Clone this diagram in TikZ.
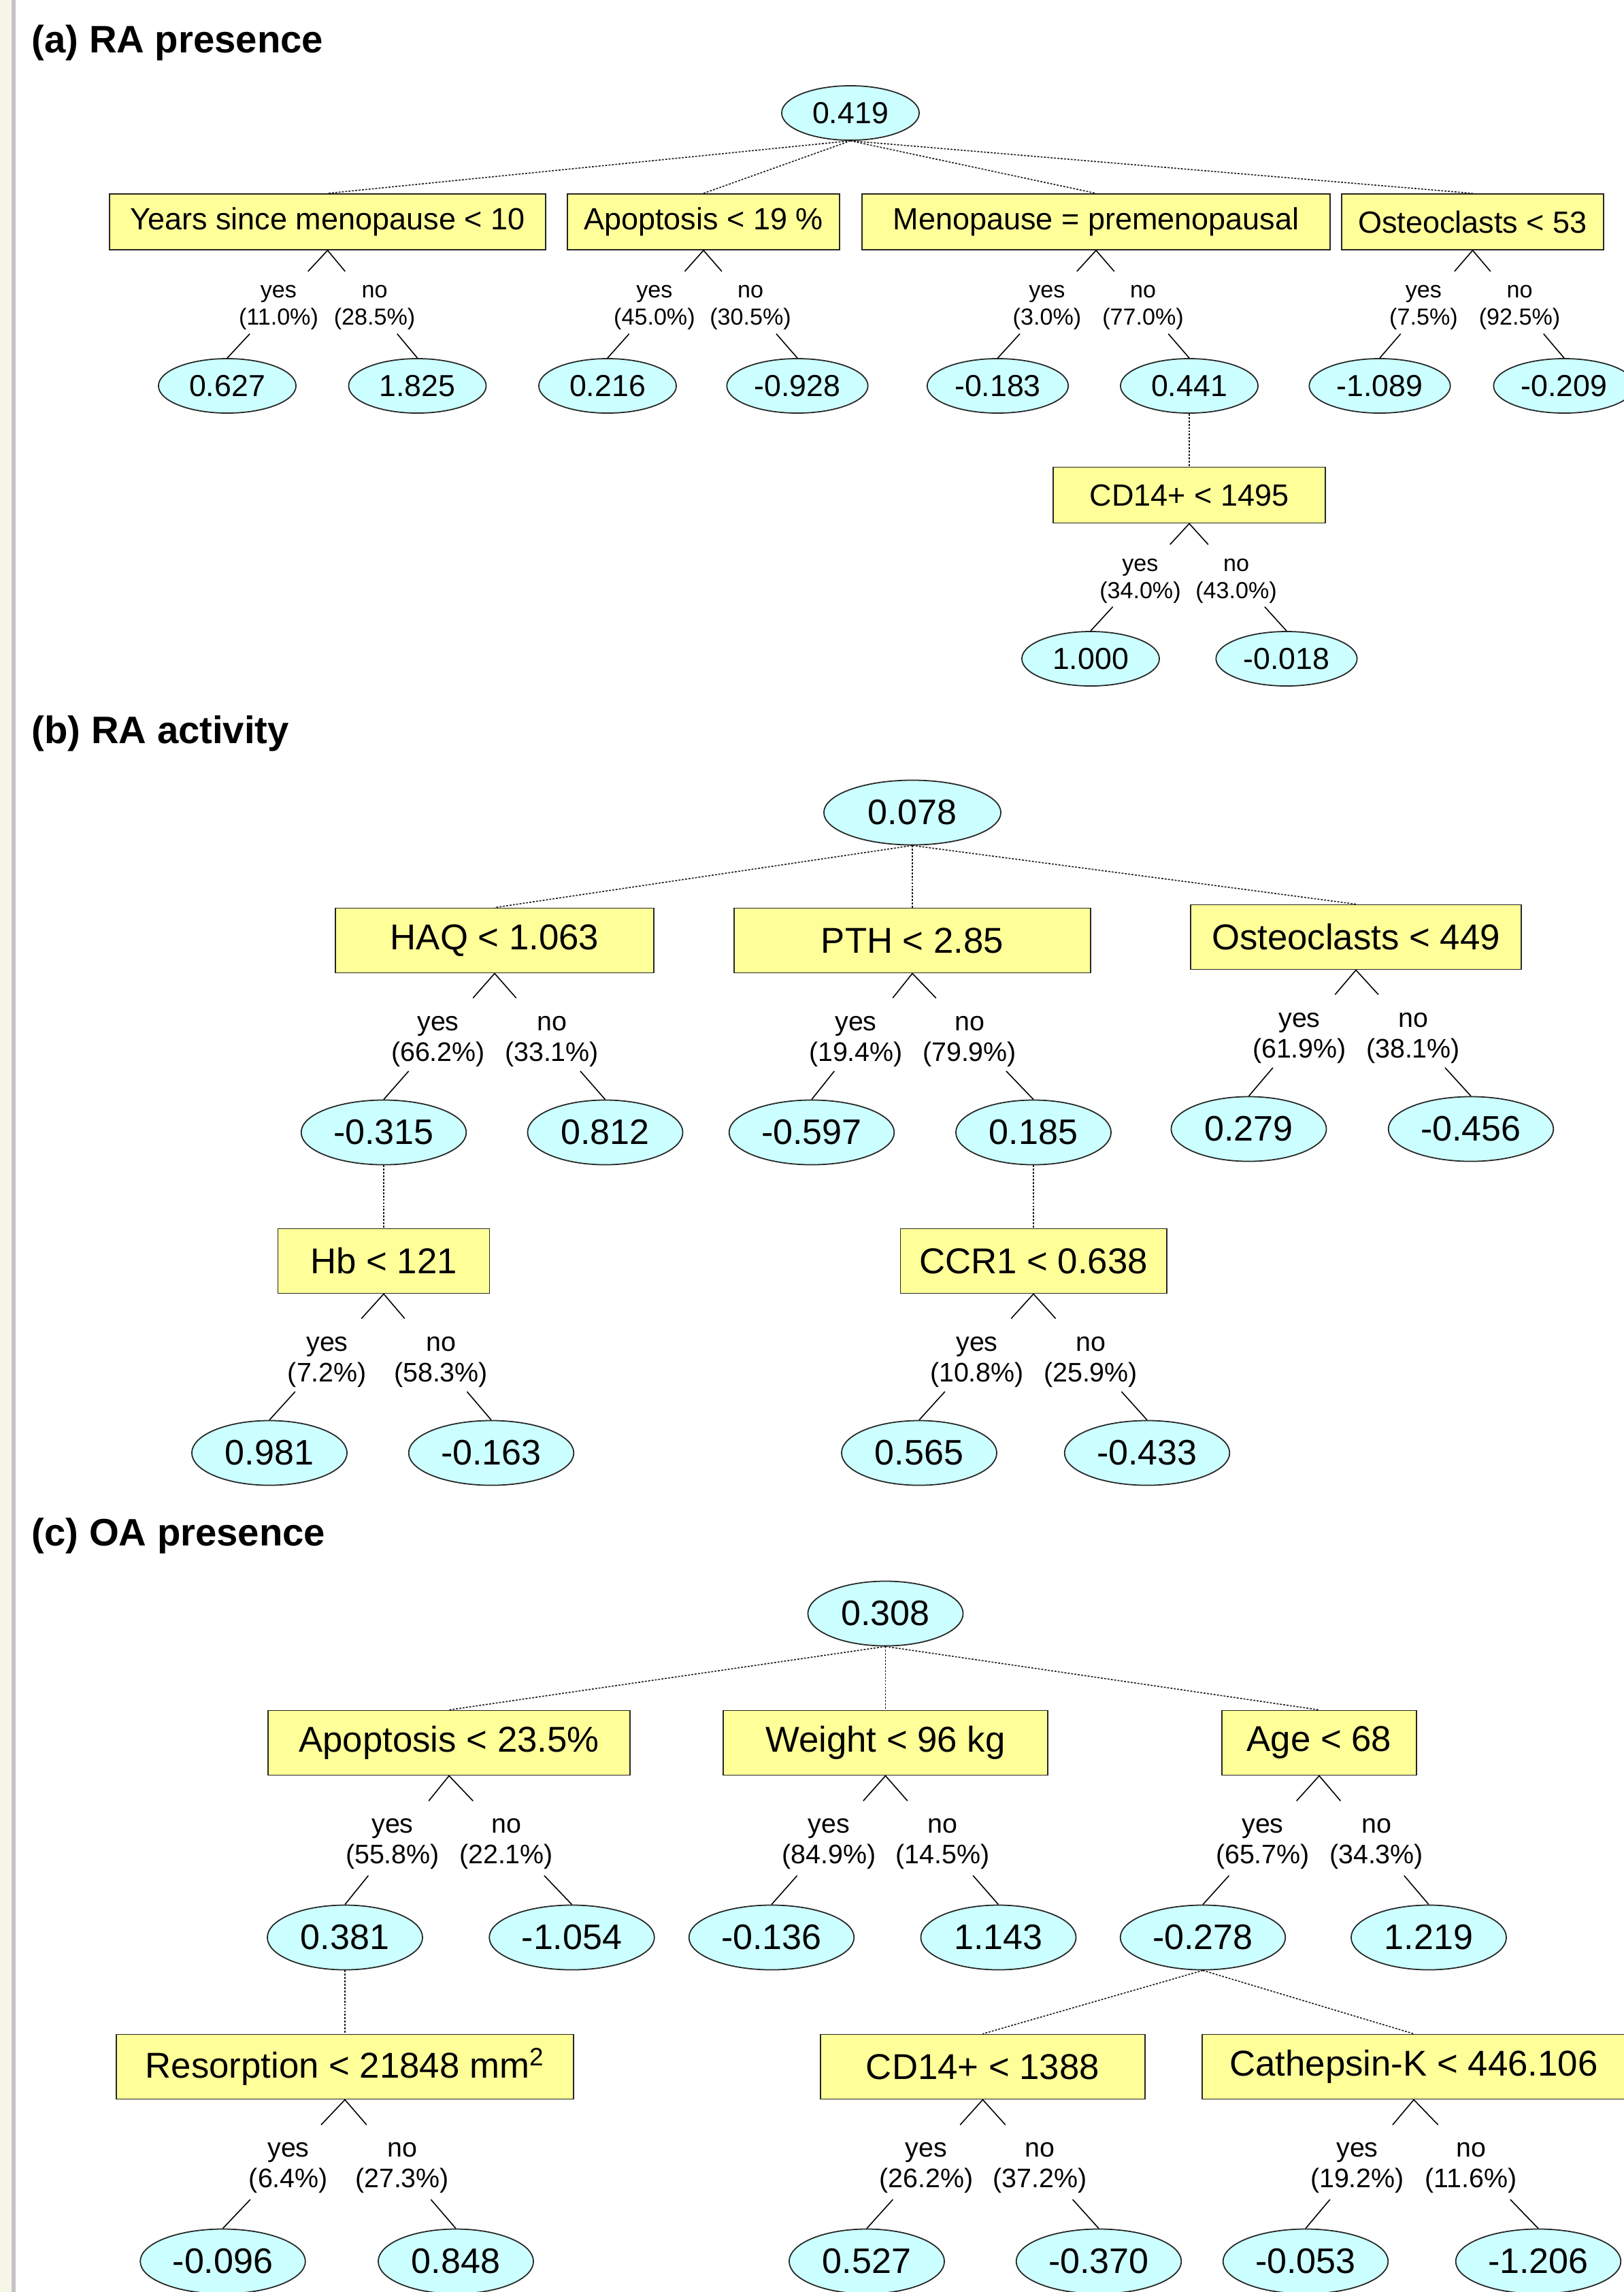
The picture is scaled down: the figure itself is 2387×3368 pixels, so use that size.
\documentclass[tikz,border=0pt]{standalone}
\usepackage{fontspec}
\setmainfont{Liberation Sans}
\usetikzlibrary{shapes.geometric,calc}
\definecolor{splityellow}{RGB}{255,255,153}
\definecolor{leafcyan}{RGB}{204,255,255}
\definecolor{pagecream}{RGB}{245,245,232}
\definecolor{railgrey}{RGB}{196,196,196}

\begin{document}
\begin{tikzpicture}[
    x=0.01cm, y=-0.01cm,
    title/.style={
        anchor=base west,
        inner sep=0pt,
        font=\bfseries\fontsize{16}{19}\selectfont
    },
    splitA/.style={
        draw=black!85,
        fill=splityellow,
        line width=0.5pt,
        inner sep=0pt,
        minimum height=0.82cm,
        font=\fontsize{12.8}{15}\selectfont
    },
    splitB/.style={
        splitA,
        minimum height=0.95cm,
        font=\fontsize{15}{18}\selectfont
    },
    leafA/.style={
        ellipse,
        draw=black!85,
        fill=leafcyan,
        line width=0.5pt,
        inner xsep=0.1cm,
        inner ysep=0pt,
        minimum width=2.02cm,
        minimum height=0.8cm,
        font=\fontsize{12.7}{15}\selectfont
    },
    leafB/.style={
        leafA,
        inner xsep=0.12cm,
        minimum width=2.28cm,
        minimum height=0.95cm,
        font=\fontsize{14.8}{18}\selectfont
    },
    pctA/.style={
        align=center,
        inner sep=0pt,
        font=\fontsize{9.7}{11.4}\selectfont
    },
    pctB/.style={
        pctA,
        font=\fontsize{11.2}{12.8}\selectfont
    },
    link/.style={
        dash pattern=on 0.8pt off 0.6pt,
        line width=0.45pt,
        black!90
    },
    branch/.style={
        line width=0.45pt,
        to path={(\tikztostart) -- ($(\tikztostart)!0.195!(\tikztotarget)$)
                 ($(\tikztostart)!0.775!(\tikztotarget)$) -- (\tikztotarget)}
    }
]

\useasboundingbox (0,0) rectangle (2387,3368);
\clip (0,0) rectangle (2387,3368);

% page background and left rail
\fill[white] (0,0) rectangle (2387,3368);
\fill[pagecream] (0,0) rectangle (17,3368);
\fill[railgrey] (17,0) rectangle (23,3368);

% ============================================================
% (a) RA PRESENCE
% ============================================================

\node[title] (titleA) at (46,77) {(a) RA presence};

\node[leafA] (rootA) at (1250,166) {0.419};

\node[splitA, minimum width=6.41cm] (yearsA) at (481.5,326) {Years since menopause < 10};
\node[splitA, minimum width=4.00cm] (apopA) at (1034,326) {Apoptosis < 19 \%};
\node[splitA, minimum width=6.88cm] (menoA) at (1611,326) {Menopause = premenopausal};
\node[splitA, minimum width=3.85cm] (osteoA) at (2164.5,326) {Osteoclasts < 53};

\node[leafA] (yearsAy) at (334,567) {0.627};
\node[leafA] (yearsAn) at (613.5,567) {1.825};
\node[leafA] (apopAy) at (893,567) {0.216};
\node[leafA] (apopAn) at (1172,567) {-0.928};
\node[leafA] (menoAy) at (1466.5,567) {-0.183};
\node[leafA] (menoAn) at (1748,567) {0.441};
\node[leafA] (osteoAy) at (2028,567) {-1.089};
\node[leafA] (osteoAn) at (2299,567) {-0.209};

\node[splitA, minimum width=4.00cm] (cdA) at (1748,727.5) {CD14+ < 1495};
\node[leafA] (cdAy) at (1603,968) {1.000};
\node[leafA] (cdAn) at (1891,968) {-0.018};

% yes / no shares
\foreach \n/\yes/\no in {yearsA/11.0/28.5, apopA/45.0/30.5, menoA/3.0/77.0,
                         osteoA/7.5/92.5, cdA/34.0/43.0} {
    \node[pctA] (\n-yes) at ([xshift=-0.72cm, yshift=-0.84cm]\n.south) {yes\\(\yes\%)};
    \node[pctA] (\n-no) at ([xshift=0.69cm, yshift=-0.84cm]\n.south) {no\\(\no\%)};
}

% ============================================================
% (b) RA ACTIVITY
% ============================================================

\node[title] (titleB) at (46,1092) {(b) RA activity};

\node[leafB, minimum width=2.6cm] (rootB) at (1341,1194) {0.078};

\node[splitB, minimum width=4.67cm] (haqB) at (727,1382) {HAQ < 1.063};
\node[splitB, minimum width=5.23cm] (pthB) at (1341,1382) {PTH < 2.85};
\node[splitB, minimum width=4.85cm] (osteoB) at (1993,1377) {Osteoclasts < 449};

\node[leafB] (haqBy) at (564,1664) {-0.315};
\node[leafB] (haqBn) at (889.5,1664) {0.812};
\node[leafB] (pthBy) at (1193,1664) {-0.597};
\node[leafB] (pthBn) at (1519,1664) {0.185};
\node[leafB] (osteoBy) at (1835.5,1659) {0.279};
\node[leafB] (osteoBn) at (2162,1659) {-0.456};

\node[splitB, minimum width=3.11cm] (hbB) at (564,1853) {Hb < 121};
\node[splitB, minimum width=3.91cm] (ccrB) at (1519,1853) {CCR1 < 0.638};

\node[leafB] (hbBy) at (396,2135) {0.981};
\node[leafB] (hbBn) at (722,2135) {-0.163};
\node[leafB] (ccrBy) at (1351,2135) {0.565};
\node[leafB] (ccrBn) at (1686,2135) {-0.433};

% ============================================================
% (c) OA PRESENCE
% ============================================================

\node[title] (titleC) at (46,2271) {(c) OA presence};

\node[leafB] (rootC) at (1301.5,2371) {0.308};

\node[splitB, minimum width=5.32cm] (apopC) at (660,2561) {Apoptosis < 23.5\%};
\node[splitB, minimum width=4.76cm] (weightC) at (1301.5,2561) {Weight < 96 kg};
\node[splitB, minimum width=2.86cm] (ageC) at (1939,2561) {Age < 68};

\node[leafB] (apopCy) at (507,2847) {0.381};
\node[leafB] (apopCn) at (840.5,2847) {-1.054};
\node[leafB] (weightCy) at (1134,2847) {-0.136};
\node[leafB] (weightCn) at (1467.5,2847) {1.143};
\node[leafB] (ageCy) at (1768,2847) {-0.278};
\node[leafB] (ageCn) at (2100,2847) {1.219};

\node[splitB, minimum width=6.71cm] (resorpC) at (507,3037) {Resorption < 21848 mm\textsuperscript{2}};
\node[splitB, minimum width=4.76cm] (cdC) at (1444.5,3037) {CD14+ < 1388};
\node[splitB, minimum width=6.22cm] (cathC) at (2078,3037) {Cathepsin-K < 446.106};

\node[leafB] (resorpCy) at (327.5,3323) {-0.096};
\node[leafB] (resorpCn) at (670,3323) {0.848};
\node[leafB] (cdCy) at (1274,3323) {0.527};
\node[leafB] (cdCn) at (1615,3323) {-0.370};
\node[leafB] (cathCy) at (1919,3323) {-0.053};
\node[leafB] (cathCn) at (2261,3323) {-1.206};

% yes / no shares
\foreach \n/\yes/\no in {haqB/66.2/33.1, pthB/19.4/79.9, osteoB/61.9/38.1,
                         hbB/7.2/58.3, ccrB/10.8/25.9,
                         apopC/55.8/22.1, weightC/84.9/14.5, ageC/65.7/34.3,
                         resorpC/6.4/27.3, cdC/26.2/37.2, cathC/19.2/11.6} {
    \node[pctB] (\n-yes) at ([xshift=-0.83cm, yshift=-1.0cm]\n.south) {yes\\(\yes\%)};
    \node[pctB] (\n-no) at ([xshift=0.84cm, yshift=-1.0cm]\n.south) {no\\(\no\%)};
}

% ============================================================
% CONNECTORS
% ============================================================

% dotted: node to the split below it
\foreach \up/\down in {rootA/yearsA, rootA/apopA, rootA/menoA, rootA/osteoA, menoAn/cdA,
                       rootB/haqB, rootB/pthB, rootB/osteoB, haqBy/hbB, pthBn/ccrB,
                       rootC/apopC, rootC/weightC, rootC/ageC, apopCy/resorpC,
                       ageCy/cdC, ageCy/cathC}
    \draw[link] (\up.south) -- (\down.north);

% solid: split to its yes / no outcome
\foreach \up/\down in {yearsA/yearsAy, yearsA/yearsAn, apopA/apopAy, apopA/apopAn,
                       menoA/menoAy, menoA/menoAn, osteoA/osteoAy, osteoA/osteoAn,
                       cdA/cdAy, cdA/cdAn,
                       haqB/haqBy, haqB/haqBn, pthB/pthBy, pthB/pthBn,
                       osteoB/osteoBy, osteoB/osteoBn, hbB/hbBy, hbB/hbBn,
                       ccrB/ccrBy, ccrB/ccrBn,
                       apopC/apopCy, apopC/apopCn, weightC/weightCy, weightC/weightCn,
                       ageC/ageCy, ageC/ageCn, resorpC/resorpCy, resorpC/resorpCn,
                       cdC/cdCy, cdC/cdCn, cathC/cathCy, cathC/cathCn}
    \draw[branch] (\up.south) to (\down.north);

\end{tikzpicture}
\end{document}
